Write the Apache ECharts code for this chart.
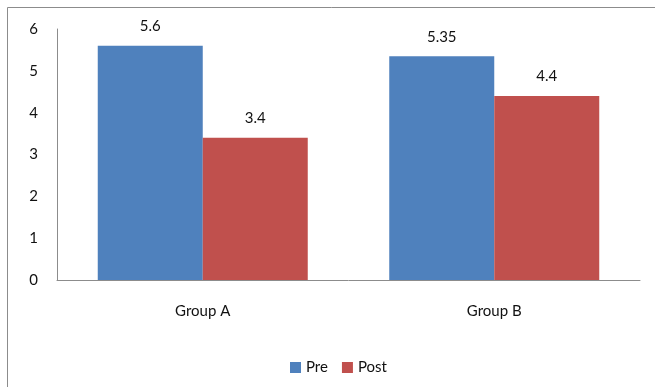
<!DOCTYPE html>
<html>
<head>
<meta charset="utf-8">
<script src="https://cdn.jsdelivr.net/npm/echarts@6/dist/echarts.min.js"></script>
<style>
html,body{margin:0;padding:0;background:#fff;}
#chart{width:655px;height:387px;}
</style>
</head>
<body>
<div id="chart"></div>
<script>
var categories = ['Group A', 'Group B'];
var preValues = [5.6, 5.35];
var postValues = [3.4, 4.4];
var yTicks = [0, 1, 2, 3, 4, 5, 6];

var chart = echarts.init(document.getElementById('chart'), null, {renderer: 'canvas'});
var font = 'Lato, "Open Sans", sans-serif';
var labelCfg = {show: true, position: 'top', distance: 12, color: '#111', fontSize: 15, fontFamily: font};
chart.setOption({
  animation: false,
  backgroundColor: '#fff',
  graphic: [{
    type: 'rect',
    shape: {x: 7.5, y: 7.5, width: 700, height: 500},
    style: {fill: 'none', stroke: '#8c8c8c', lineWidth: 1},
    silent: true
  }],
  grid: {left: 57, right: 15, top: 29, bottom: 107},
  legend: {
    data: ['Pre', 'Post'],
    left: 285, top: 355,
    itemWidth: 11, itemHeight: 11, itemGap: 14,
    icon: 'rect',
    textStyle: {fontSize: 15, color: '#111', fontFamily: font}
  },
  xAxis: {
    type: 'category',
    data: categories,
    axisLine: {lineStyle: {color: '#8c8c8c', width: 1}},
    axisTick: {show: false},
    axisLabel: {color: '#111', fontSize: 15, margin: 24, fontFamily: font}
  },
  yAxis: {
    type: 'value',
    min: yTicks[0], max: yTicks[yTicks.length - 1], interval: 1,
    axisLine: {show: true, lineStyle: {color: '#8c8c8c', width: 1}},
    axisTick: {show: false},
    splitLine: {show: false},
    axisLabel: {color: '#111', fontSize: 15, margin: 19, fontFamily: font}
  },
  series: [
    {name: 'Pre', type: 'bar', data: preValues, barWidth: 105, barGap: '0%',
     itemStyle: {color: '#4F81BD'}, label: labelCfg},
    {name: 'Post', type: 'bar', data: postValues, barWidth: 105,
     itemStyle: {color: '#C0504D'}, label: labelCfg}
  ]
});
</script>
</body>
</html>
